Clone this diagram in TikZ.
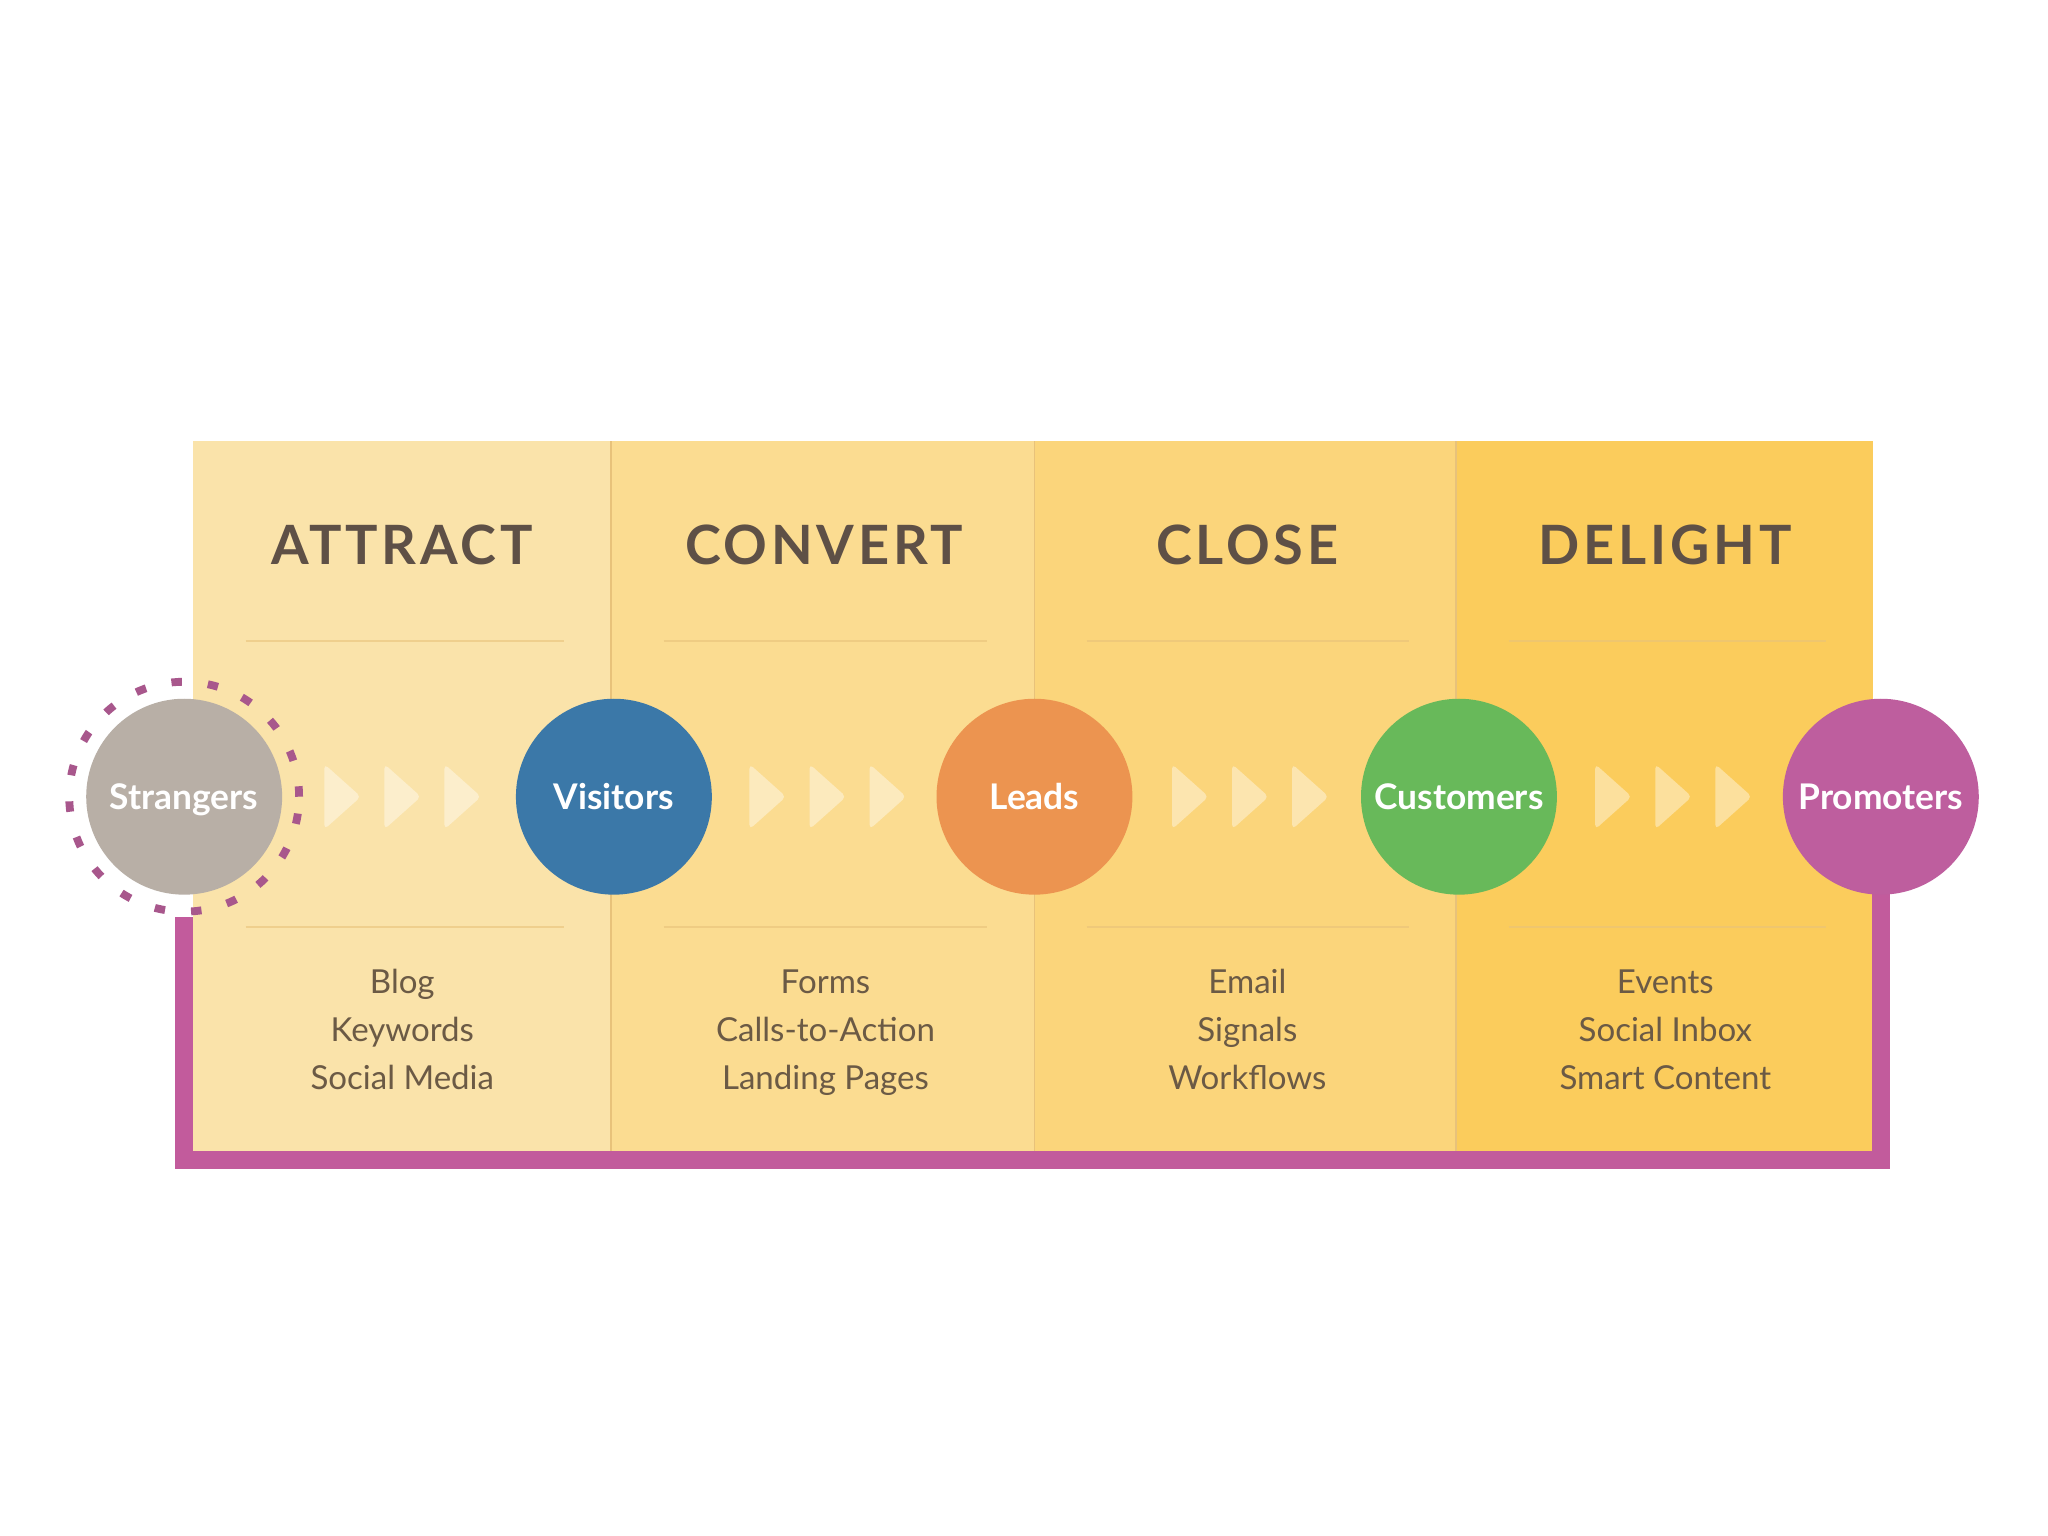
\documentclass[tikz,border=0pt]{standalone}
\usepackage{fontspec}
\setmainfont{Lato}
\newfontfamily\headfont[LetterSpace=7]{Lato}
\usetikzlibrary{shapes.geometric,positioning,backgrounds}
\definecolor{colA}{HTML}{FAE3AA}
\definecolor{colB}{HTML}{FBDC91}
\definecolor{colC}{HTML}{FBD57B}
\definecolor{colD}{HTML}{FBCC5C}
\definecolor{hdrText}{HTML}{5E5046}
\definecolor{itmText}{HTML}{6B5A45}
\definecolor{sepLine}{HTML}{E8C27A}
\definecolor{loopPink}{HTML}{C25B9C}
\definecolor{ringPink}{HTML}{A8578C}
\definecolor{strGray}{HTML}{B8AFA6}
\definecolor{visBlue}{HTML}{3B78A8}
\definecolor{leadOrange}{HTML}{EC9450}
\definecolor{custGreen}{HTML}{68B95A}
\definecolor{promPink}{HTML}{BE5E9E}

\begin{document}
\begin{tikzpicture}[
  stage/.style={circle,fill=#1,minimum size=1.5cm,inner sep=0pt,text=white,
                text height=1.5ex,text depth=0.4ex,
                font=\bfseries\fontsize{7.7}{9}\selectfont},
  hdr/.style={font=\headfont\bfseries\fontsize{11.8}{14}\selectfont,text=hdrText},
  itm/.style={font=\fontsize{7.2}{10.5}\selectfont,text=itmText,align=center},
  chev/.style={isosceles triangle,isosceles triangle apex angle=84,
               isosceles triangle stretches,minimum height=0.28cm,minimum width=0.5cm,
               inner sep=0pt,rounded corners=1pt,fill=white,fill opacity=0.4},
  sep/.style={draw=sepLine,line width=0.5pt,opacity=0.6},
  funnel/.style={draw=loopPink,line width=0.14cm},
  ring/.style={draw=ringPink,line width=0.06cm,dash pattern=on 0.08cm off 0.2cm}
]
  \useasboundingbox (0,0) rectangle (15.68,11.76);

  % columns
  \begin{pgfonlayer}{background}
  \fill[white](0,0) rectangle (15.68,11.76);
  \foreach \xl/\xr/\col in {1.48/4.68/colA,4.68/7.92/colB,7.92/11.15/colC,11.15/14.34/colD}{
    \fill[\col](\xl,2.94) rectangle (\xr,8.38);
    \draw[sep](\xl+0.40,6.85)--(\xr-0.36,6.85);
    \draw[sep](\xl+0.40,4.66)--(\xr-0.36,4.66);
  }
  \foreach \x in {4.68,7.92,11.15}{\draw[sepLine,line width=0.4pt](\x,2.94)--(\x,8.38);}
  \end{pgfonlayer}

  % ── headers ──
  \node[hdr](h1) at (3.08,7.59) {ATTRACT};
  \node[hdr](h2) at (6.31,7.59) {CONVERT};
  \node[hdr](h3) at (9.55,7.59) {CLOSE};
  \node[hdr](h4) at (12.75,7.59){DELIGHT};

  % ── tools ──
  \node[itm](t1) at (3.08,3.86) {\strut Blog\\Keywords\\Social Media\strut};
  \node[itm](t2) at (6.32,3.86) {\strut Forms\\Calls-to-Action\\Landing Pages\strut};
  \node[itm](t3) at (9.55,3.86) {\strut Email\\Signals\\Workflows\strut};
  \node[itm](t4) at (12.75,3.86){\strut Events\\Social Inbox\\Smart Content\strut};

  % ── stages ──
  \node[stage=strGray](str)    at (1.41,5.66) {Strangers};
  \node[stage=visBlue](vis)    at (4.70,5.66) {Visitors};
  \node[stage=leadOrange](lead)at (7.92,5.66) {Leads};
  \node[stage=custGreen](cust) at (11.17,5.66){Customers};
  \node[stage=promPink](pro)   at (14.40,5.66){Promoters};
  \draw[ring](str) circle (0.88cm);

  % loop back
  \coordinate (loopTop) at (1.41,4.74);
  \coordinate (loopBot) at (1.41,2.88);
  \begin{pgfonlayer}{background}
  \draw[funnel](loopTop)--(loopBot)-|(pro.center);
  \end{pgfonlayer}

  % chevrons
  \foreach \a/\b in {str/vis,vis/lead,lead/cust,cust/pro}{
    \path (\a) -- (\b) coordinate[midway](m\a);
    \foreach \d in {-0.46,0,0.46}{\node[chev] at ([xshift=\d cm]m\a){};}
  }
\end{tikzpicture}
\end{document}
